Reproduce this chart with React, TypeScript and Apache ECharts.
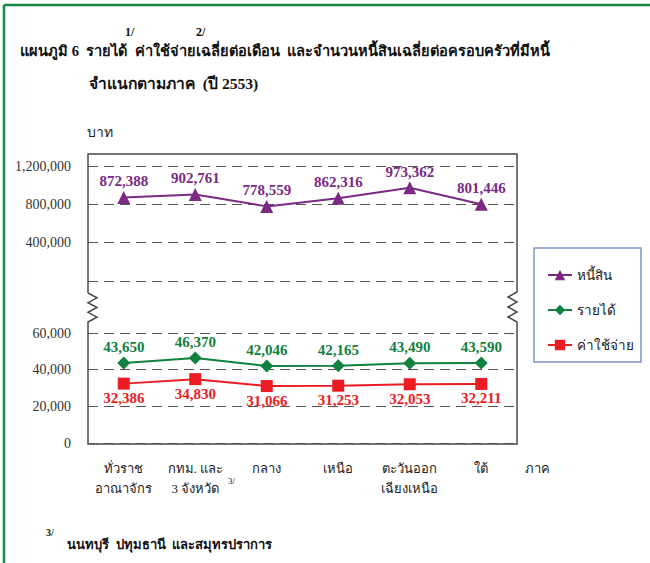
import React, { useEffect, useRef } from "react";
import * as echarts from "echarts";

const categories = [
  "ทั่วราช\nอาณาจักร",
  "กทม. และ\n3 จังหวัด",
  "กลาง",
  "เหนือ",
  "ตะวันออก\nเฉียงเหนือ",
  "ใต้",
];
const seriesNames = ["หนี้สิน", "รายได้", "ค่าใช้จ่าย"];
const debt = [872388, 902761, 778559, 862316, 973362, 801446];
const income = [43650, 46370, 42046, 42165, 43490, 43590];
const expense = [32386, 34830, 31066, 31253, 32053, 32211];
const upperTicks = { min: 0, max: 1200000, interval: 400000 };
const lowerTicks = { min: 0, max: 60000, interval: 20000 };

const PURPLE = "#7B2A84";
const GREEN = "#12803F";
const RED = "#EC1C24";
const FRAME = "#4a4a4a";
const GRIDC = "#555555";
const FONT = "'Liberation Serif', 'Times New Roman', serif";

const fmt = (v: number) => String(v).replace(/\B(?=(\d{3})+(?!\d))/g, ",");

export default function App() {
  const ref = useRef<HTMLDivElement>(null);
  useEffect(() => {
    if (!ref.current) return;
    const chart = echarts.init(ref.current, null, { renderer: "svg" });
    const L = 88, R = 517, T = 154, B = 444;
    const zz = (x: number, dir: number, y0: number, y1: number) => {
      const pts: number[][] = [];
      const n = 6;
      for (let i = 0; i <= n; i++) {
        const y = y0 + ((y1 - y0) * i) / n;
        pts.push([i % 2 === 1 ? x + dir * 9 : x, y]);
      }
      return pts;
    };
    const framePts = [
      [L, 293], [L, T], [R, T], [R, 292],
      ...zz(R, -1, 292, 322).slice(1),
      [R, B], [L, B], [L, 322],
      ...zz(L, 1, 322, 293).slice(1),
    ];
    const splitLine = {
      show: true,
      lineStyle: { color: GRIDC, type: [10, 6] as any, width: 1.2 },
    };
    const axisLabel = { color: "#333", fontSize: 14, fontFamily: FONT, margin: 17 };
    const labelBase = { show: true, fontFamily: FONT, fontWeight: "bold", fontSize: 15, formatter: (p: any) => fmt(p.value) };
    chart.setOption({
      animation: false,
      backgroundColor: "#ffffff",
      grid: [
        { left: L, right: 650 - R, top: 166, height: 115 },
        { left: L, right: 650 - R, top: 333, height: 110 },
      ],
      xAxis: [
        { type: "category", gridIndex: 0, data: categories, show: false },
        {
          type: "category",
          gridIndex: 1,
          data: categories,
          axisLine: { show: false },
          axisTick: { show: false },
          axisLabel: { interval: 0, color: "#222", fontSize: 13, fontFamily: FONT, lineHeight: 20, margin: 15 },
        },
      ],
      yAxis: [
        {
          type: "value", gridIndex: 0, ...upperTicks,
          axisLine: { show: false }, axisTick: { show: false }, splitLine,
          axisLabel: { ...axisLabel, formatter: (v: number) => (v === 0 ? "" : fmt(v)) },
        },
        {
          type: "value", gridIndex: 1, ...lowerTicks,
          axisLine: { show: false }, axisTick: { show: false }, splitLine,
          axisLabel: { ...axisLabel, formatter: (v: number) => fmt(v) },
        },
      ],
      legend: {
        orient: "vertical",
        left: 547,
        top: 265,
        itemGap: 15,
        itemWidth: 24,
        itemHeight: 13,
        padding: 0,
        data: seriesNames,
        textStyle: { fontSize: 13.5, fontFamily: FONT, color: "#222", lineHeight: 20 },
      },
      series: [
        {
          name: seriesNames[0], type: "line", xAxisIndex: 0, yAxisIndex: 0, data: debt,
          symbol: "triangle", symbolSize: 13, color: PURPLE, lineStyle: { width: 2, color: PURPLE },
          label: { ...labelBase, position: "top", distance: 2, color: PURPLE },
        },
        {
          name: seriesNames[1], type: "line", xAxisIndex: 1, yAxisIndex: 1, data: income,
          symbol: "diamond", symbolSize: 13, color: GREEN, lineStyle: { width: 2, color: GREEN },
          label: { ...labelBase, position: "top", distance: 2, color: GREEN },
        },
        {
          name: seriesNames[2], type: "line", xAxisIndex: 1, yAxisIndex: 1, data: expense,
          symbol: "rect", symbolSize: 12, color: RED, lineStyle: { width: 2, color: RED },
          label: { ...labelBase, position: "bottom", distance: 1, color: RED },
        },
      ],
      graphic: [
        { type: "line", shape: { x1: 4, y1: 5, x2: 650, y2: 5 }, style: { stroke: "#1B8A45", lineWidth: 2.5 } },
        { type: "line", shape: { x1: 4, y1: 5, x2: 4, y2: 563 }, style: { stroke: "#1B8A45", lineWidth: 2.5 } },
        { type: "polyline", shape: { points: framePts }, style: { stroke: FRAME, lineWidth: 1.5, fill: "none" } },
        { type: "rect", shape: { x: 534, y: 248, width: 107, height: 114 }, style: { stroke: "#8193C8", lineWidth: 1.5, fill: "none" } },
        { type: "text", x: 125, y: 32, style: { text: "1/", font: `bold 12px ${FONT}`, fill: "#111", verticalAlign: "middle" } },
        { type: "text", x: 196, y: 32, style: { text: "2/", font: `bold 12px ${FONT}`, fill: "#111", verticalAlign: "middle" } },
        {
          type: "text", x: 20, y: 51,
          style: { text: "แผนภูมิ 6  รายได้  ค่าใช้จ่ายเฉลี่ยต่อเดือน  และจำนวนหนี้สินเฉลี่ยต่อครอบครัวที่มีหนี้", font: `bold 14.6px ${FONT}`, fill: "#111", verticalAlign: "middle" },
        },
        { type: "text", x: 89, y: 83, style: { text: "จำแนกตามภาค  (ปี 2553)", font: `bold 15.6px ${FONT}`, fill: "#111", verticalAlign: "middle" } },
        { type: "text", x: 87, y: 132, style: { text: "บาท", font: `14px ${FONT}`, fill: "#222", verticalAlign: "middle" } },
        { type: "text", x: 525, y: 468, style: { text: "ภาค", font: `13px ${FONT}`, fill: "#222", verticalAlign: "middle" } },
        { type: "text", x: 228, y: 481, style: { text: "3/", font: `9px ${FONT}`, fill: "#222", verticalAlign: "middle" } },
        { type: "text", x: 46, y: 532, style: { text: "3/", font: `bold 10px ${FONT}`, fill: "#111", verticalAlign: "middle" } },
        { type: "text", x: 67, y: 544, style: { text: "นนทบุรี  ปทุมธานี  และสมุทรปราการ", font: `bold 13px ${FONT}`, fill: "#111", verticalAlign: "middle" } },
      ],
    });
    return () => chart.dispose();
  }, []);
  return (
    <div
      ref={ref}
      style={{ position: "fixed", left: 0, top: 0, width: 650, height: 563, background: "#fff" }}
    />
  );
}
